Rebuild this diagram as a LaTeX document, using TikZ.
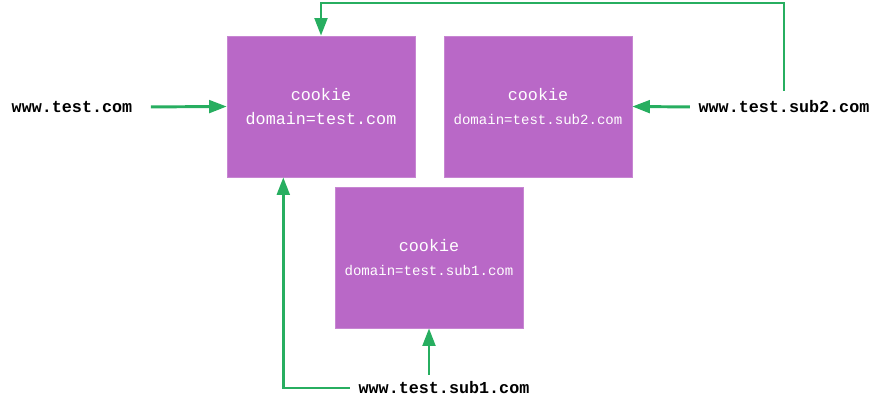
\documentclass[tikz,border=0pt]{standalone}
\usepackage{fontspec}
\setmonofont{Liberation Mono}
\usetikzlibrary{arrows.meta,calc}
\definecolor{cookiepurple}{HTML}{B968C7}
\definecolor{linkgreen}{HTML}{27AE60}
\tikzset{
  cookiebox/.style={fill=cookiepurple, draw=cookiepurple!80!white, minimum width=133.7pt, minimum height=100.3pt, text=white, align=center, font=\ttfamily\fontsize{11.9}{17}\selectfont, inner sep=0pt},
  sitelabel/.style={font=\ttfamily\bfseries\fontsize{11.9}{14}\selectfont, inner sep=1pt},
  link/.style={draw=linkgreen, line width=2.1pt, -{Triangle[length=12.5pt, width=9pt]}}
}
\begin{document}
\begin{tikzpicture}[x=0.025cm, y=-0.025cm]
\useasboundingbox (0,0) rectangle (880,408);

%cookies
\node[cookiebox] (boxtest) at (321,106.5) {cookie\\domain=test.com};
\node[cookiebox] (boxsubtwo) at (538,106.5) {cookie\\{\fontsize{10}{14}\selectfont domain=test.sub2.com}};
\node[cookiebox] (boxsubone) at (429,257.5) {cookie\\{\fontsize{10}{14}\selectfont domain=test.sub1.com}};

%sites
\node[sitelabel] (lbltest) at (72,107) {www.test.com};
\node[sitelabel] (lblsubtwo) at (784,107) {www.test.sub2.com};
\node[sitelabel] (lblsubone) at (444,388) {www.test.sub1.com};
\coordinate (topline) at (550,3);

%links
\draw[link, shorten <=12pt] (lbltest.east) -- (boxtest.west);
\draw[link, shorten <=5pt] (lblsubtwo.west) -- (boxsubtwo.east);
\draw[link, shorten <=6pt] (lblsubtwo.north) |- (topline) -| (boxtest.north);
\draw[link, shorten <=4pt] (boxsubone.south |- lblsubone.north) -- (boxsubone.south);
\draw[link, shorten <=5pt] (lblsubone.west) -| ($(boxtest.south west)!0.3!(boxtest.south east)$);

\end{tikzpicture}
\end{document}
